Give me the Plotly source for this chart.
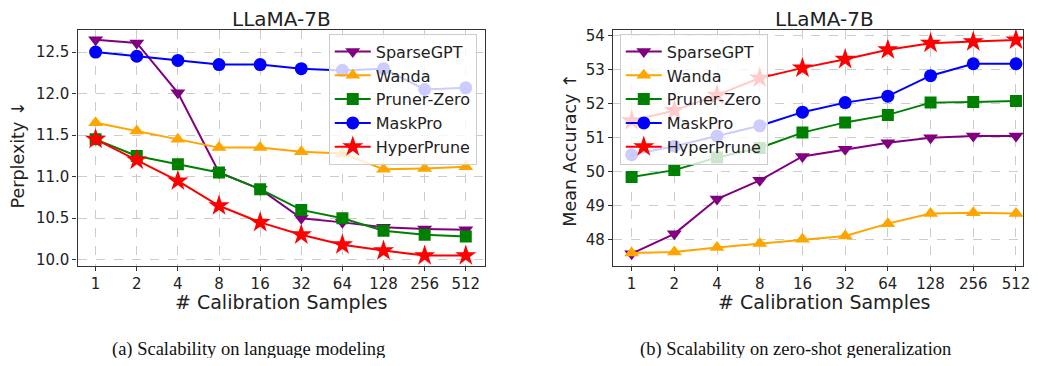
import plotly.graph_objects as go

samples = ["1", "2", "4", "8", "16", "32", "64", "128", "256", "512"]

methods = ["SparseGPT", "Wanda", "Pruner-Zero", "MaskPro", "HyperPrune"]

ppl_sparsegpt = [12.65, 12.61, 12.01, 11.05, 10.85, 10.50, 10.45, 10.39, 10.37, 10.36]
ppl_wanda = [11.65, 11.55, 11.45, 11.35, 11.35, 11.30, 11.28, 11.09, 11.10, 11.12]
ppl_prunerzero = [11.45, 11.25, 11.15, 11.05, 10.85, 10.60, 10.50, 10.35, 10.30, 10.28]
ppl_maskpro = [12.50, 12.45, 12.40, 12.35, 12.35, 12.30, 12.28, 12.30, 12.05, 12.07]
ppl_hyperprune = [11.45, 11.20, 10.95, 10.65, 10.45, 10.30, 10.18, 10.11, 10.05, 10.05]

acc_sparsegpt = [47.60, 48.18, 49.20, 49.75, 50.45, 50.66, 50.85, 51.00, 51.05, 51.05]
acc_wanda = [47.62, 47.65, 47.78, 47.90, 48.02, 48.12, 48.48, 48.78, 48.80, 48.78]
acc_prunerzero = [49.85, 50.05, 50.42, 50.70, 51.15, 51.45, 51.67, 52.03, 52.05, 52.08]
acc_maskpro = [50.50, 50.75, 51.05, 51.35, 51.75, 52.03, 52.22, 52.82, 53.17, 53.17]
acc_hyperprune = [51.50, 51.80, 52.25, 52.75, 53.05, 53.30, 53.58, 53.77, 53.82, 53.87]

colors = ["#800080", "#FFA500", "#008000", "#0000FF", "#FF0000"]
symbols = ["triangle-down", "triangle-up", "square", "circle", "star"]
msizes = [13, 13, 12, 13, 16]

ppl_series = [ppl_sparsegpt, ppl_wanda, ppl_prunerzero, ppl_maskpro, ppl_hyperprune]
acc_series = [acc_sparsegpt, acc_wanda, acc_prunerzero, acc_maskpro, acc_hyperprune]

# page is 1038x366; the body has an 8px margin, so keep the figure inside it
PAGE_W, PAGE_H = 1038, 366
OFF = 8
W, H = PAGE_W - 2 * OFF, PAGE_H - 2 * OFF
FONT = "DejaVu Sans"

def px(x):
    return (x - OFF) / W

def py(y):
    return (OFF + H - y) / H

fig = go.Figure()

for i, name in enumerate(methods):
    fig.add_trace(go.Scatter(
        x=samples, y=ppl_series[i], name=name, mode="lines+markers",
        line=dict(color=colors[i], width=2),
        marker=dict(symbol=symbols[i], size=msizes[i], color=colors[i]),
        xaxis="x", yaxis="y", legend="legend", legendgroup="a" + str(i),
    ))
for i, name in enumerate(methods):
    fig.add_trace(go.Scatter(
        x=samples, y=acc_series[i], name=name, mode="lines+markers",
        line=dict(color=colors[i], width=2),
        marker=dict(symbol=symbols[i], size=msizes[i], color=colors[i]),
        xaxis="x2", yaxis="y2", legend="legend2", legendgroup="b" + str(i),
    ))

axis_common = dict(
    showline=True, linecolor="#333333", linewidth=1.2, mirror=True,
    ticks="outside", ticklen=4, tickcolor="#333333", tickwidth=1,
    showgrid=True, gridcolor="#cccccc", griddash="dash", gridwidth=1,
    zeroline=False, tickfont=dict(family=FONT, size=15, color="#222222"),
)

y0, y1 = py(267), py(27)

legend_common = dict(
    bgcolor="rgba(255,255,255,0.8)", bordercolor="#cccccc", borderwidth=1,
    font=dict(family=FONT, size=16, color="#222222"),
    traceorder="grouped", tracegroupgap=0, itemwidth=36,
)

fig.update_layout(
    width=W, height=H,
    margin=dict(l=0, r=0, t=0, b=0),
    plot_bgcolor="white", paper_bgcolor="white",
    font=dict(family=FONT, color="#222222"),
    xaxis=dict(domain=[px(78), px(488)], anchor="y", type="category",
               range=[-0.44, 9.46], **axis_common),
    yaxis=dict(domain=[y0, y1], anchor="x", range=[9.93, 12.77],
               tickvals=[10.0, 10.5, 11.0, 11.5, 12.0, 12.5], tickformat=".1f",
               **axis_common),
    xaxis2=dict(domain=[px(617), 1.0], anchor="y2", type="category",
                range=[-0.44, (W + OFF - 617) / 43.0 - 0.44], **axis_common),
    yaxis2=dict(domain=[y0, y1], anchor="x2", range=[47.25, 54.17],
                tickvals=[48, 49, 50, 51, 52, 53, 54], **axis_common),
    legend=dict(x=px(480), y=py(31), xanchor="right", yanchor="top", **legend_common),
    legend2=dict(x=px(624), y=py(31), xanchor="left", yanchor="top", **legend_common),
)

annots = [
    dict(text="LLaMA-7B", x=px(283), y=py(16), font=dict(family=FONT, size=20)),
    dict(text="LLaMA-7B", x=px(830), y=py(16), font=dict(family=FONT, size=20)),
    dict(text="# Calibration Samples", x=px(283), y=py(304), font=dict(family=FONT, size=19)),
    dict(text="# Calibration Samples", x=px(830), y=py(304), font=dict(family=FONT, size=19)),
    dict(text="Perplexity ↓", x=px(19), y=py(154), textangle=-90, font=dict(family=FONT, size=17.5)),
    dict(text="Mean Accuracy ↑", x=px(573), y=py(150), textangle=-90, font=dict(family=FONT, size=17.5)),
    dict(text="(a) Scalability on language modeling", x=px(250), y=py(352),
         font=dict(family="Liberation Serif", size=18.5, color="#111111")),
    dict(text="(b) Scalability on zero-shot generalization", x=px(801), y=py(352),
         font=dict(family="Liberation Serif", size=18.5, color="#111111")),
]
for a in annots:
    fig.add_annotation(xref="paper", yref="paper", xanchor="center", yanchor="middle",
                       showarrow=False, **a)

fig.write_html("out.html")
